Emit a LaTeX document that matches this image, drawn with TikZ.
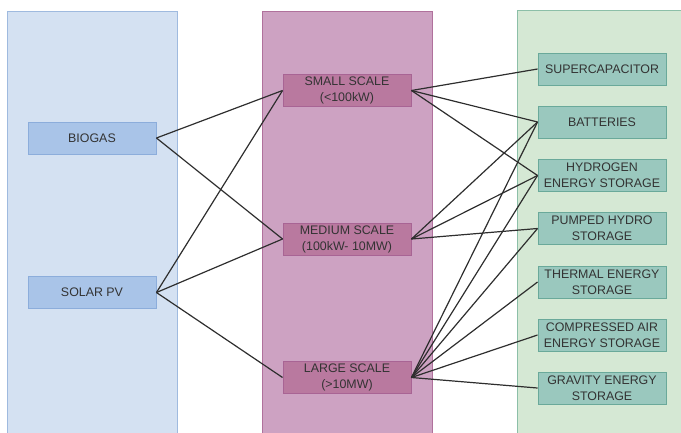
\documentclass[tikz,border=0pt]{standalone}
\usepackage{fontspec}
\setmainfont{Liberation Sans}
\definecolor{lpanel}{HTML}{D4E1F2}
\definecolor{lpanelb}{HTML}{9FBADF}
\definecolor{lnode}{HTML}{A9C4E8}
\definecolor{lnodeb}{HTML}{8CADDB}
\definecolor{mpanel}{HTML}{CDA2C2}
\definecolor{mpanelb}{HTML}{B0719C}
\definecolor{mnode}{HTML}{B9799F}
\definecolor{mnodeb}{HTML}{A86494}
\definecolor{rpanel}{HTML}{D5E8D4}
\definecolor{rpanelb}{HTML}{8CBFA8}
\definecolor{rnode}{HTML}{9AC8BE}
\definecolor{rnodeb}{HTML}{6AA99A}
\definecolor{txt}{HTML}{333333}
\definecolor{edge}{HTML}{2E2E2E}
\begin{document}
\begin{tikzpicture}[x=1pt,y=-1pt,
  box/.style={rectangle, minimum width=128pt, minimum height=32pt, inner sep=0pt,
    align=center, text=txt, line width=0.9pt,
    font=\fontsize{12.4}{16}\selectfont},
  lbox/.style={box, fill=lnode, draw=lnodeb},
  mbox/.style={box, fill=mnode, draw=mnodeb},
  rbox/.style={box, fill=rnode, draw=rnodeb},
  link/.style={draw=edge, line width=1.2pt}]
\useasboundingbox (0,0) rectangle (681,432);
\clip (0,0) rectangle (681,432);
% panels
\draw[fill=lpanel, draw=lpanelb, line width=0.9pt] (7,11) rectangle (177,445);
\draw[fill=mpanel, draw=mpanelb, line width=0.9pt] (262,11) rectangle (432,445);
\draw[fill=rpanel, draw=rpanelb, line width=0.9pt] (517,10) rectangle (690,445);
% left nodes
\node[lbox] (bio) at (92,138) {BIOGAS};
\node[lbox] (pv) at (92,292.5) {SOLAR PV};
% middle nodes
\node[mbox] (small) at (347,90.5) {SMALL SCALE\\(<100kW)};
\node[mbox] (medium) at (347,239) {MEDIUM SCALE\\(100kW- 10MW)};
\node[mbox] (large) at (347,377.5) {LARGE SCALE\\(>10MW)};
% right nodes
\node[rbox] (sc) at (602,69) {SUPERCAPACITOR};
\node[rbox] (bat) at (602,122) {BATTERIES};
\node[rbox] (hyd) at (602,175.5) {HYDROGEN\\ENERGY STORAGE};
\node[rbox] (phs) at (602,228.5) {PUMPED HYDRO\\STORAGE};
\node[rbox] (the) at (602,282) {THERMAL ENERGY\\STORAGE};
\node[rbox] (cae) at (602,335) {COMPRESSED AIR\\ENERGY STORAGE};
\node[rbox] (gra) at (602,388) {GRAVITY ENERGY\\STORAGE};
% connectors left -> middle
\draw[link] (bio.east) -- (small.west);
\draw[link] (bio.east) -- (medium.west);
\draw[link] (pv.east) -- (small.west);
\draw[link] (pv.east) -- (medium.west);
\draw[link] (pv.east) -- (large.west);
% connectors middle -> right
\draw[link] (small.east) -- (sc.west);
\draw[link] (small.east) -- (bat.west);
\draw[link] (small.east) -- (hyd.west);
\draw[link] (medium.east) -- (bat.west);
\draw[link] (medium.east) -- (hyd.west);
\draw[link] (medium.east) -- (phs.west);
\draw[link] (large.east) -- (bat.west);
\draw[link] (large.east) -- (hyd.west);
\draw[link] (large.east) -- (phs.west);
\draw[link] (large.east) -- (the.west);
\draw[link] (large.east) -- (cae.west);
\draw[link] (large.east) -- (gra.west);
\end{tikzpicture}
\end{document}
